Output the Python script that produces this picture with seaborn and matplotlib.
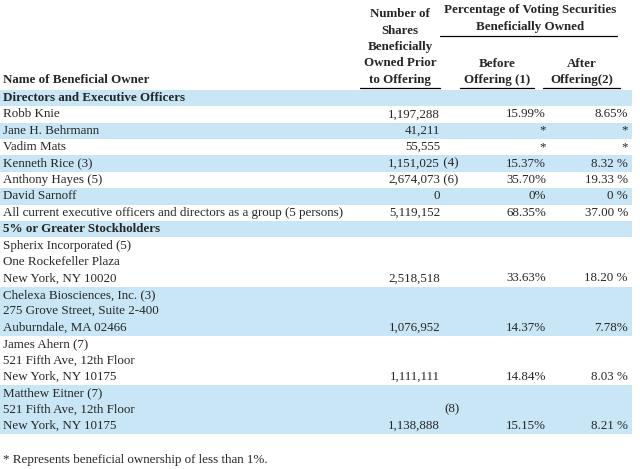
import matplotlib
matplotlib.use("Agg")
import matplotlib.pyplot as plt
import seaborn as sns

sns.set_theme(style="white")
plt.rcParams["font.family"] = ["Liberation Serif", "DejaVu Serif"]

# table content
names = [
    "Directors and Executive Officers",
    "Robb Knie", "Jane H. Behrmann", "Vadim Mats", "Kenneth Rice (3)",
    "Anthony Hayes (5)", "David Sarnoff",
    "All current executive officers and directors as a group (5 persons)",
    "5% or Greater Stockholders",
    "Spherix Incorporated (5)", "One Rockefeller Plaza", "New York, NY 10020",
    "Chelexa Biosciences, Inc. (3)", "275 Grove Street, Suite 2-400", "Auburndale, MA 02466",
    "James Ahern (7)", "521 Fifth Ave, 12th Floor", "New York, NY 10175",
    "Matthew Eitner (7)", "521 Fifth Ave, 12th Floor", "New York, NY 10175",
]
shares = ["", "1,197,288", "41,211", "55,555", "1,151,025", "2,674,073", "0", "5,119,152",
          "", "", "", "2,518,518", "", "", "1,076,952", "", "", "1,111,111", "", "(8)", "1,138,888"]
share_notes = ["", "", "", "", " (4)", " (6)", "", "", "", "", "", "", "", "", "", "", "", "", "", "", ""]
before = ["", "15.99%", "*", "*", "15.37%", "35.70%", "0%", "68.35%",
          "", "", "", "33.63%", "", "", "14.37%", "", "", "14.84%", "", "", "15.15%"]
after = ["", "8.65%", "*", "*", "8.32 %", "19.33 %", "0 %", "37.00 %",
         "", "", "", "18.20 %", "", "", "7.78%", "", "", "8.03 %", "", "", "8.21 %"]
bold_rows = [0, 8]
shaded_rows = [0, 2, 4, 6, 8, 12, 13, 14, 18, 19, 20]

fig = plt.figure(figsize=(6.4, 4.69), dpi=100)
ax = fig.add_axes([0, 0, 1, 1])
ax.set_xlim(0, 640)
ax.set_ylim(469, 0)
ax.axis("off")

fs = 9.4
top, pitch = 98, 16.4
band = "#c8e6f5"

for i in shaded_rows:
    y = top + i * pitch
    ax.axhspan(y - pitch / 2, y + pitch / 2, xmin=0, xmax=632 / 640, color=band, lw=0)

for i, name in enumerate(names):
    y = top + i * pitch
    w = "bold" if i in bold_rows else "normal"
    ax.text(3, y, name, fontsize=fs, fontweight=w, va="center", ha="left")
    if shares[i] == "(8)":
        ax.text(452, y, "(8)", fontsize=fs, va="center", ha="center")
    elif shares[i]:
        ax.text(440, y, shares[i], fontsize=fs, va="center", ha="right")
    if share_notes[i]:
        ax.text(440, y, share_notes[i], fontsize=fs, va="center", ha="left")
    ax.text(546, y, before[i], fontsize=fs, va="center", ha="right")
    ax.text(628, y, after[i], fontsize=fs, va="center", ha="right")

# header
hb = dict(fontsize=fs, fontweight="bold", va="center", ha="center")
for k, line in enumerate(["Number of", "Shares", "Beneficially", "Owned Prior", "to Offering"]):
    ax.text(400, 14 + k * 16.5, line, **hb)
ax.text(530, 10, "Percentage of Voting Securities", **hb)
ax.text(530, 27, "Beneficially Owned", **hb)
ax.plot([440, 617], [36, 36], color="black", lw=0.9)
ax.text(497, 64, "Before", **hb)
ax.text(497, 80, "Offering (1)", **hb)
ax.text(582, 64, "After", **hb)
ax.text(582, 80, "Offering(2)", **hb)
ax.text(3, 80, "Name of Beneficial Owner", fontsize=fs, fontweight="bold", va="center", ha="left")
for x0, x1 in [(360, 440), (460, 534), (543, 620)]:
    ax.plot([x0, x1], [88, 88], color="black", lw=0.9)

ax.text(3, 460, "* Represents beneficial ownership of less than 1%.", fontsize=fs, va="center", ha="left")

fig.savefig("out.png", dpi=100)
